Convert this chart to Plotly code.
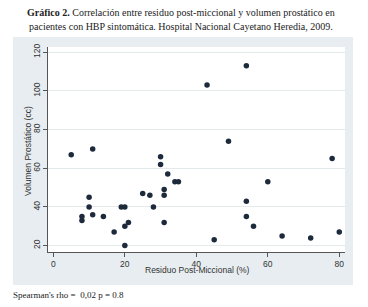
import plotly.graph_objects as go

residuo = [5, 11, 8, 8, 10, 10, 11, 14, 17, 19, 20, 20, 21, 20, 25, 27, 28, 30, 30, 31, 31, 31, 32, 34, 35,
           43, 45, 49, 54, 54, 54, 56, 60, 64, 72, 78, 80]
volumen = [67, 70, 35, 33, 45, 40, 36, 35, 27, 40, 40, 30, 32, 20, 47, 46, 40, 66, 62, 49, 46, 32, 57, 53, 53,
           103, 23, 74, 113, 43, 35, 30, 53, 25, 24, 65, 27]
xticks = [0, 20, 40, 60, 80]
yticks = [20, 40, 60, 80, 100, 120]

W, H = 368, 307
L, R, T, B = 48, 345, 47, 252

def px(x):
    return (x - L) / (R - L)

def py(y):
    return (B - y) / (B - T)

fig = go.Figure()
fig.add_trace(go.Scatter(x=residuo, y=volumen, mode="markers",
                         marker=dict(color="#1c2a3c", size=5.5, line=dict(width=0)),
                         showlegend=False, hoverinfo="skip"))

fig.add_shape(type="rect", xref="paper", yref="paper", x0=px(13), x1=px(353), y0=py(285), y1=py(37),
              fillcolor="#e7edf0", opacity=1, line=dict(width=0), layer="below")
fig.add_shape(type="rect", xref="paper", yref="paper", x0=0, x1=1, y0=0, y1=1,
              fillcolor="#ffffff", opacity=1, line=dict(width=0), layer="below")

serif = "Liberation Serif"
sans = "Liberation Sans"
fig.add_annotation(xref="paper", yref="paper", x=px(181), y=py(12), xanchor="center", yanchor="middle",
                   text="<b>Gráfico 2.</b> Correlación entre residuo post-miccional y volumen prostático en",
                   showarrow=False, font=dict(family=serif, size=10, color="#222"))
fig.add_annotation(xref="paper", yref="paper", x=px(181), y=py(27), xanchor="center", yanchor="middle",
                   text="pacientes con HBP sintomática. Hospital Nacional Cayetano Heredia, 2009.",
                   showarrow=False, font=dict(family=serif, size=10, color="#222"))
fig.add_annotation(xref="paper", yref="paper", x=px(11), y=py(295), xanchor="left", yanchor="middle",
                   text="Spearman's rho =  0,02 p = 0.8",
                   showarrow=False, font=dict(family=serif, size=9, color="#222"))
fig.add_annotation(xref="paper", yref="paper", x=px(197), y=py(270), xanchor="center", yanchor="middle",
                   text="Residuo Post-Miccional (%)",
                   showarrow=False, font=dict(family=sans, size=8.5, color="#333"))
fig.add_annotation(xref="paper", yref="paper", x=px(28), y=py(151), xanchor="center", yanchor="middle",
                   text="Volumen Prostático (cc)", textangle=-90,
                   showarrow=False, font=dict(family=sans, size=8.5, color="#333"))

fig.update_layout(
    width=W, height=H,
    margin=dict(l=L, r=W - R, t=T, b=H - B, pad=0),
    paper_bgcolor="white", plot_bgcolor="rgba(0,0,0,0)",
    hovermode=False,
    xaxis=dict(range=[-1.5, 81.6], tickvals=xticks, ticktext=[str(v) for v in xticks],
               showgrid=False, zeroline=False, showline=True, linecolor="#555", linewidth=1,
               ticks="outside", ticklen=4, tickcolor="#555",
               tickfont=dict(family=sans, size=8.5, color="#333")),
    yaxis=dict(range=[16.7, 122.7], tickvals=yticks, ticktext=[str(v) for v in yticks],
               showgrid=True, gridcolor="#e4e9ec", gridwidth=1, zeroline=False,
               showline=True, linecolor="#555", linewidth=1,
               ticks="outside", ticklen=4, tickcolor="#555", tickangle=-90,
               tickfont=dict(family=sans, size=8.5, color="#333")),
)
fig.write_html("out.html", config={"displayModeBar": False, "staticPlot": True},
               post_script="document.body.style.margin='0';")
